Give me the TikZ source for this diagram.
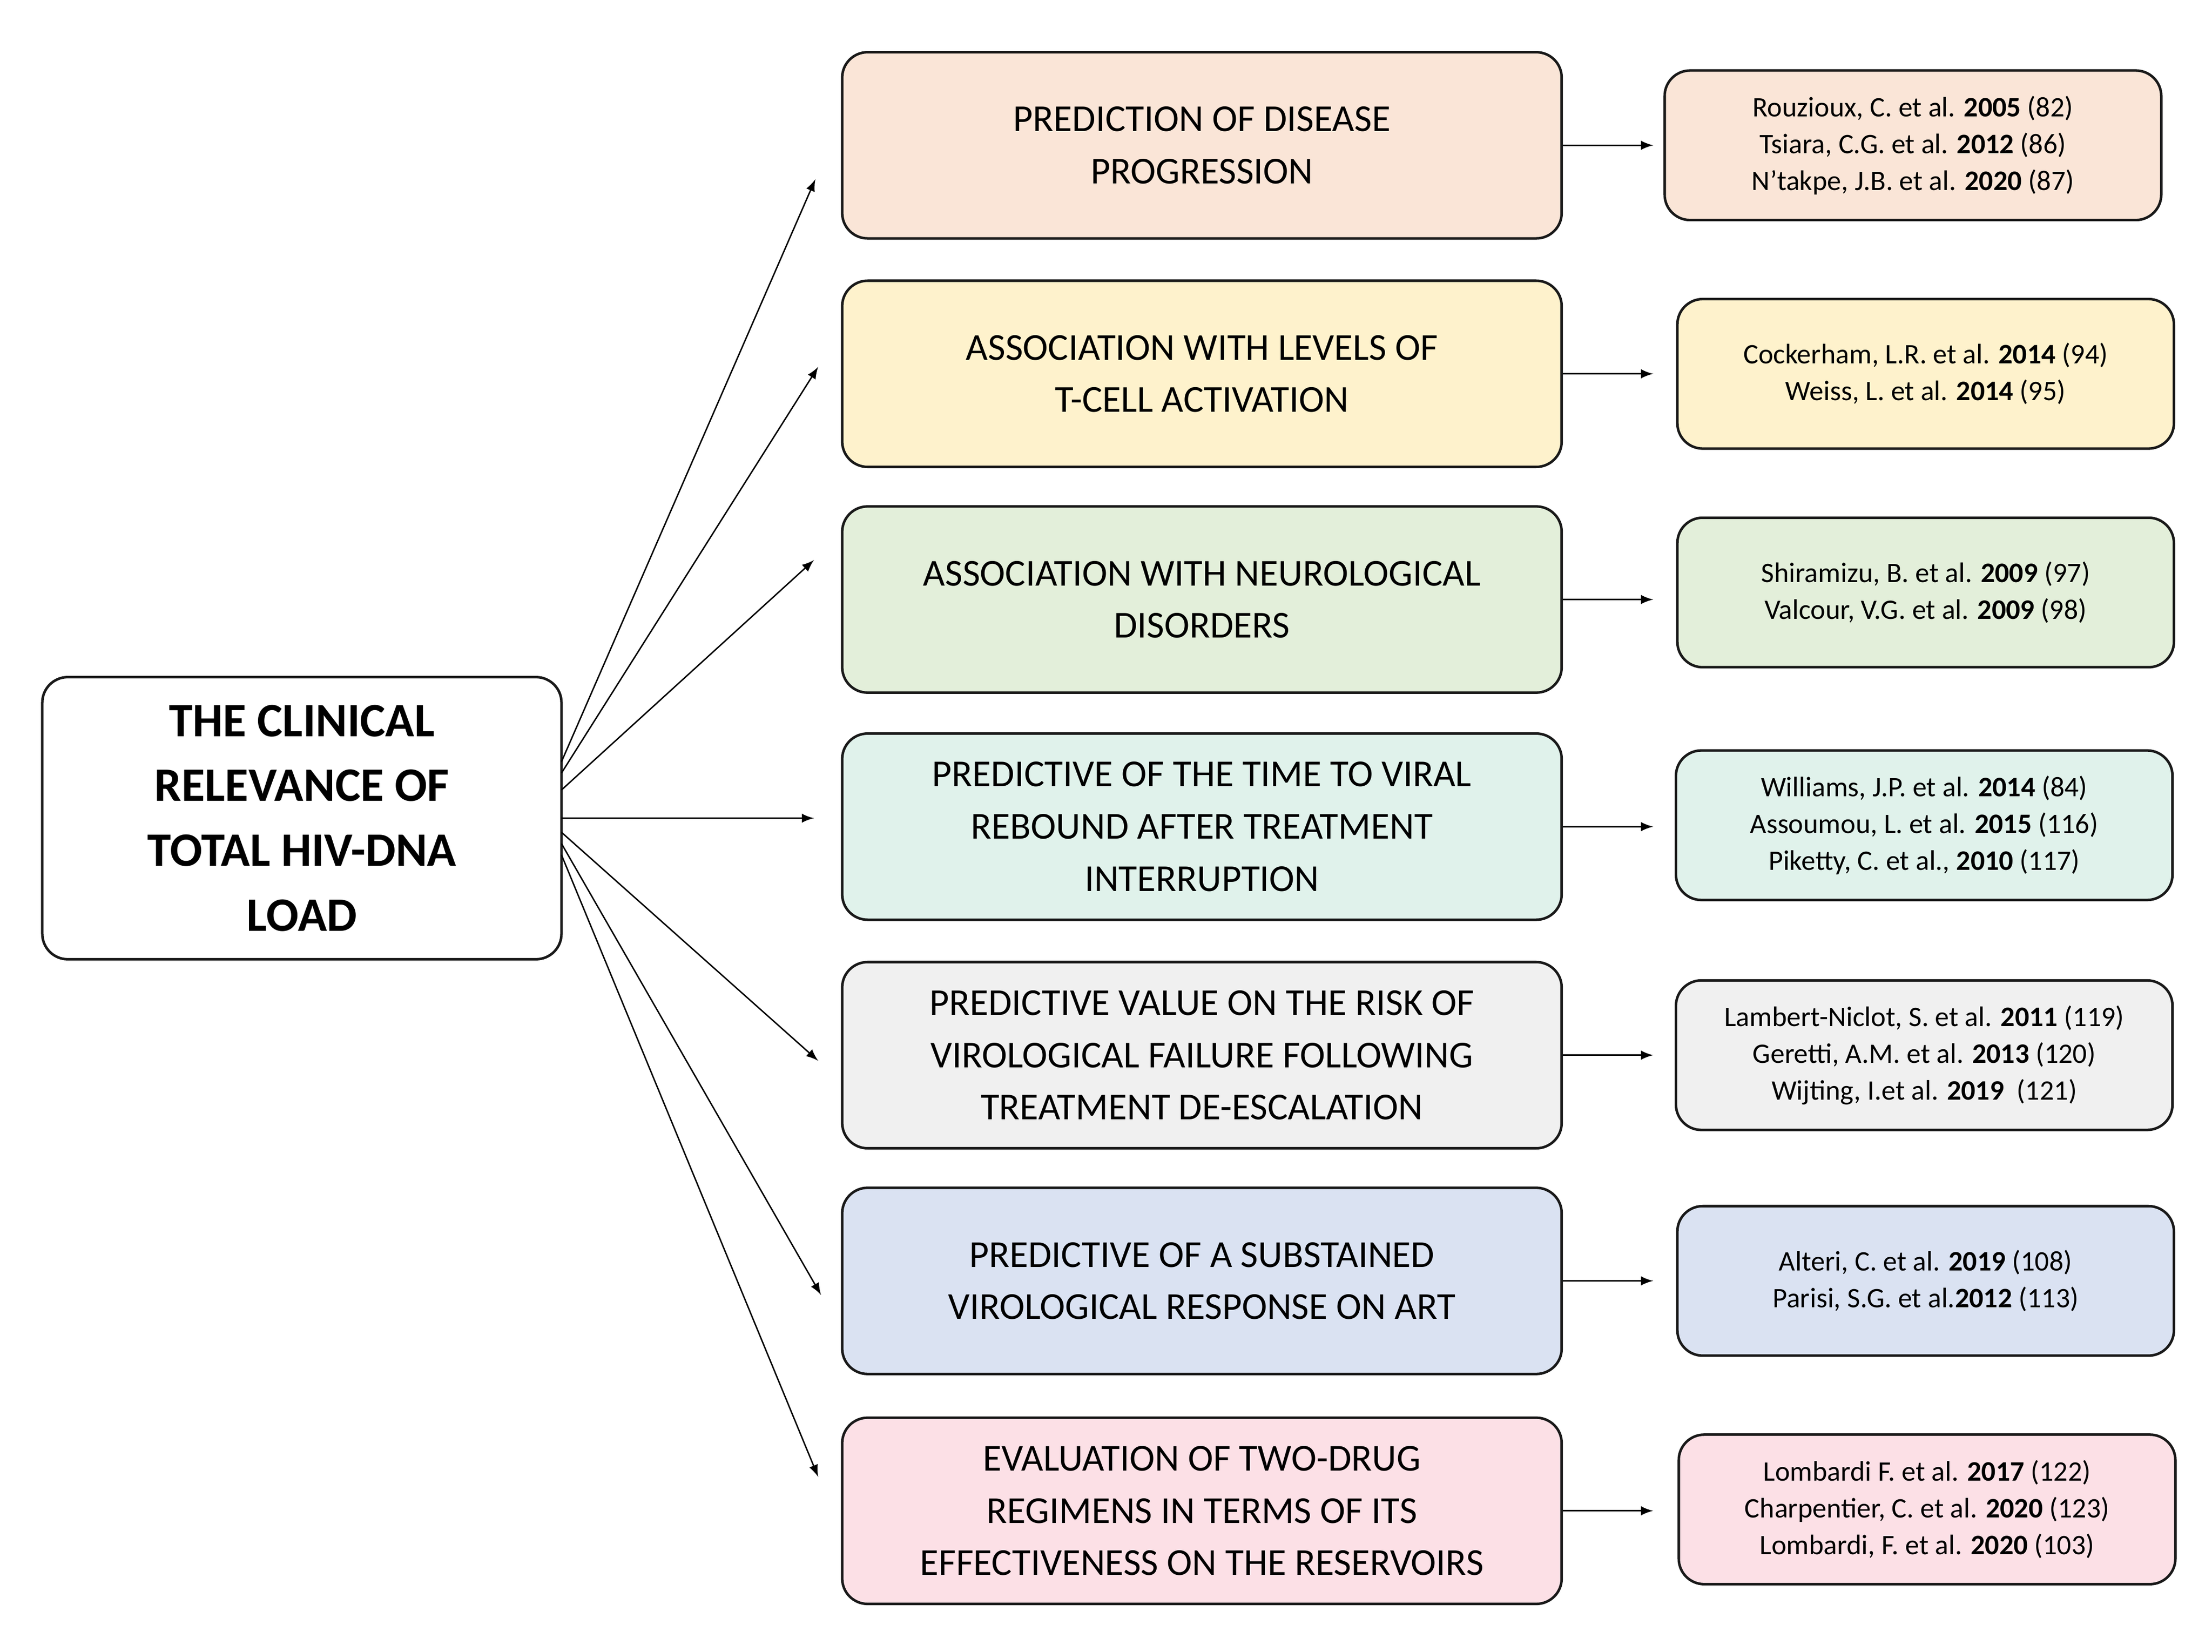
\documentclass[tikz,border=0pt]{standalone}
\usepackage{fontspec}
\setmainfont{Carlito}
\usetikzlibrary{positioning}
\colorlet{bordercolor}{black!90}
\definecolor{c1}{HTML}{FAE5D7}
\definecolor{c2}{HTML}{FEF2CC}
\definecolor{c3}{HTML}{E3EFDA}
\definecolor{c4}{HTML}{E0F2EB}
\definecolor{c5}{HTML}{F0F0F0}
\definecolor{c6}{HTML}{DAE2F2}
\definecolor{c7}{HTML}{FCE0E6}
\tikzset{boxbase/.style={rounded corners=9pt, draw=bordercolor, line width=0.9pt, align=center},%
    title/.style={boxbase, minimum width=184pt, minimum height=100pt, font=\fontsize{17}{23}\selectfont\bfseries},%
    topic/.style={boxbase, fill=#1, minimum width=255pt, minimum height=66pt, font=\fontsize{13.5}{18.5}\selectfont},%
    refbox/.style={boxbase, fill=#1, minimum width=176pt, minimum height=53pt, font=\fontsize{10}{13}\selectfont},%
    conn/.style={-latex, line width=0.5pt}%
}
\begin{document}
\begin{tikzpicture}[x=0.5pt, y=-0.5pt]
    \useasboundingbox (0,0) rectangle (1568,1171);
    \node[title] (main) at (214,580) {THE CLINICAL\\RELEVANCE OF\\TOTAL HIV-DNA\\LOAD};
    % topics
    \node[topic=c1] (topic1) at (852,103) {PREDICTION OF DISEASE\\PROGRESSION};
    \node[topic=c2] (topic2) at (852,265) {ASSOCIATION WITH LEVELS OF\\T-CELL ACTIVATION};
    \node[topic=c3] (topic3) at (852,425) {ASSOCIATION WITH NEUROLOGICAL\\DISORDERS};
    \node[topic=c4] (topic4) at (852,586) {PREDICTIVE OF THE TIME TO VIRAL\\REBOUND AFTER TREATMENT\\INTERRUPTION};
    \node[topic=c5] (topic5) at (852,748) {PREDICTIVE VALUE ON THE RISK OF\\VIROLOGICAL FAILURE FOLLOWING\\TREATMENT DE-ESCALATION};
    \node[topic=c6] (topic6) at (852,908) {PREDICTIVE OF A SUBSTAINED\\VIROLOGICAL RESPONSE ON ART};
    \node[topic=c7] (topic7) at (852,1071) {EVALUATION OF TWO-DRUG\\REGIMENS IN TERMS OF ITS\\EFFECTIVENESS ON THE RESERVOIRS};
    % references
    \node[refbox=c1] (ref1) at (1356,103) {Rouzioux, C. et al. \textbf{2005} (82)\\Tsiara, C.G. et al. \textbf{2012} (86)\\N'takpe, J.B. et al. \textbf{2020} (87)};
    \node[refbox=c2] (ref2) at (1365,265) {Cockerham, L.R. et al. \textbf{2014} (94)\\Weiss, L. et al. \textbf{2014} (95)};
    \node[refbox=c3] (ref3) at (1365,420) {Shiramizu, B. et al. \textbf{2009} (97)\\Valcour, V.G. et al. \textbf{2009} (98)};
    \node[refbox=c4] (ref4) at (1364,585) {Williams, J.P. et al. \textbf{2014} (84)\\Assoumou, L. et al. \textbf{2015} (116)\\Piketty, C. et al., \textbf{2010} (117)};
    \node[refbox=c5] (ref5) at (1364,748) {Lambert-Niclot, S. et al. \textbf{2011} (119)\\Geretti, A.M. et al. \textbf{2013} (120)\\Wijting, I.et al. \textbf{2019}\ \ (121)};
    \node[refbox=c6] (ref6) at (1365,908) {Alteri, C. et al. \textbf{2019} (108)\\Parisi, S.G. et al.\textbf{2012} (113)};
    \node[refbox=c7] (ref7) at (1366,1070) {Lombardi F. et al. \textbf{2017} (122)\\Charpentier, C. et al. \textbf{2020} (123)\\Lombardi, F. et al. \textbf{2020} (103)};
    % connections
    \foreach \n/\ystart/\xend/\yend in {1/540/578/127, 2/548/580/260, 3/560/577/397, 4/580/577/580, 5/590/580/752, 6/598/582/918, 7/606/580/1047}
        \draw[conn] (398,\ystart) -- (\xend,\yend);
    \foreach \n in {1,...,7}
        \draw[conn] (topic\n.east) -- ++(64,0);
\end{tikzpicture}
\end{document}
